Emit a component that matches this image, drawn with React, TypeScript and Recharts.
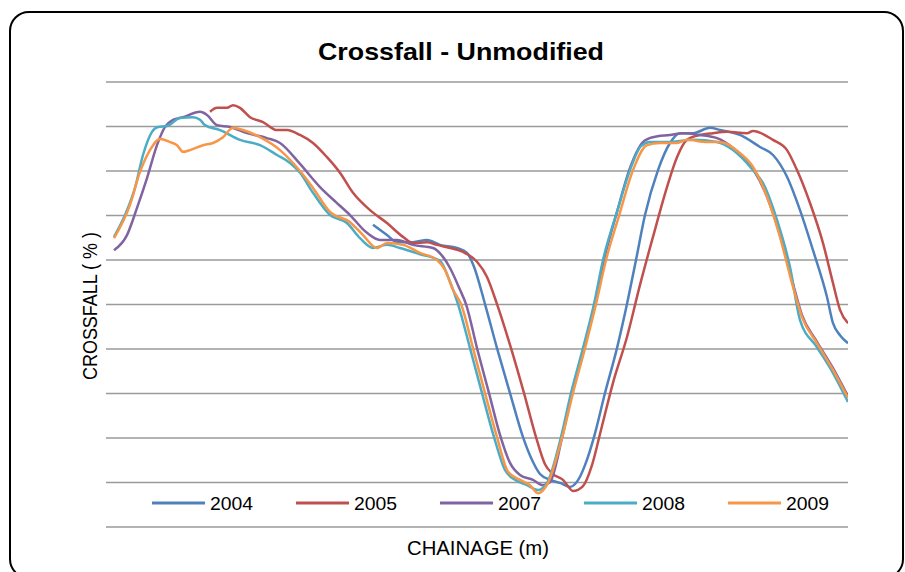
import React from "react";
import { LineChart, Line, XAxis, YAxis, CartesianGrid, Legend } from "recharts";

const years = ["2004", "2005", "2007", "2008", "2009"];
const colors = ["#4F81BD", "#C0504D", "#8064A2", "#4BACC6", "#F79646"];
const yTicks = [-5, -4, -3, -2, -1, 0, 1, 2, 3, 4, 5];

const chainage2004 = [267, 281, 291, 307, 321, 334, 351, 361, 368, 379, 391, 404, 417, 427, 434, 444, 454, 464, 474, 479, 488, 499, 511, 521, 530, 539, 552, 564, 574, 587, 604, 614, 634, 654, 667, 681, 694, 707, 721, 727, 734, 742];
const crossfall2004 = [1.79, 1.56, 1.40, 1.40, 1.45, 1.34, 1.27, 1.16, 0.85, 0.01, -0.98, -1.99, -2.98, -3.54, -3.81, -3.94, -4.01, -4.10, -3.87, -3.61, -2.98, -1.99, -0.98, 0.01, 1.00, 2.01, 3.02, 3.63, 3.85, 3.85, 3.97, 3.92, 3.81, 3.54, 3.36, 2.87, 2.12, 1.22, 0.17, -0.42, -0.69, -0.87];

const chainage2005 = [104, 111, 121, 127, 134, 144, 157, 171, 181, 194, 207, 221, 234, 247, 264, 281, 297, 307, 321, 331, 344, 357, 371, 381, 391, 405, 418, 430, 439, 447, 457, 467, 477, 486, 495, 507, 521, 534, 547, 561, 571, 581, 594, 607, 621, 641, 647, 667, 681, 691, 704, 717, 727, 734, 742];
const crossfall2005 = [4.33, 4.42, 4.42, 4.48, 4.42, 4.21, 4.10, 3.92, 3.92, 3.81, 3.63, 3.31, 2.96, 2.51, 2.12, 1.83, 1.52, 1.38, 1.40, 1.34, 1.27, 1.18, 0.96, 0.62, 0.01, -0.98, -1.99, -2.98, -3.59, -3.81, -3.94, -4.19, -4.08, -3.61, -2.82, -1.76, -0.73, 0.44, 1.52, 2.64, 3.31, 3.70, 3.81, 3.85, 3.88, 3.85, 3.90, 3.70, 3.47, 3.02, 2.28, 1.38, 0.48, -0.12, -0.42];

const chainage2007 = [8, 21, 31, 41, 51, 59, 67, 77, 94, 101, 111, 124, 141, 161, 174, 194, 214, 231, 244, 261, 274, 291, 307, 327, 337, 344, 354, 360, 371, 383, 394, 404, 414, 427, 437, 444, 456, 466, 478, 489, 498, 511, 524, 537, 547, 564, 577, 594, 611, 627, 647, 661, 674, 686, 696, 711, 727, 742];
const crossfall2007 = [1.22, 1.56, 2.17, 2.84, 3.58, 3.99, 4.15, 4.21, 4.33, 4.26, 4.03, 3.99, 3.85, 3.74, 3.63, 3.16, 2.64, 2.28, 2.01, 1.61, 1.45, 1.45, 1.34, 1.27, 1.07, 0.82, 0.33, 0.01, -0.98, -1.99, -2.93, -3.56, -3.83, -3.94, -4.06, -3.99, -3.00, -1.99, -0.98, 0.01, 1.00, 2.08, 3.07, 3.65, 3.76, 3.81, 3.85, 3.81, 3.74, 3.52, 3.05, 2.42, 1.56, 0.55, -0.24, -0.84, -1.43, -2.06];

const chainage2008 = [8, 19, 29, 37, 46, 52, 61, 74, 87, 94, 99, 114, 134, 154, 171, 184, 194, 207, 224, 241, 254, 267, 281, 294, 314, 334, 344, 352, 364, 376, 388, 399, 409, 421, 432, 441, 455, 465, 477, 488, 497, 511, 524, 535, 544, 561, 587, 611, 627, 647, 657, 671, 684, 694, 711, 727, 742];
const crossfall2008 = [1.52, 2.01, 2.62, 3.36, 3.88, 3.99, 4.01, 4.19, 4.21, 4.15, 4.03, 3.92, 3.70, 3.58, 3.36, 3.18, 2.96, 2.51, 2.01, 1.83, 1.49, 1.27, 1.34, 1.27, 1.13, 0.98, 0.51, 0.01, -0.98, -1.99, -2.98, -3.72, -3.94, -4.06, -4.17, -4.01, -2.98, -1.99, -0.98, 0.01, 1.00, 2.08, 3.02, 3.56, 3.65, 3.65, 3.70, 3.65, 3.47, 3.02, 2.73, 1.90, 0.84, -0.35, -0.96, -1.54, -2.19];

const chainage2009 = [8, 24, 34, 44, 54, 64, 71, 77, 84, 97, 107, 117, 127, 137, 154, 174, 194, 207, 224, 244, 257, 271, 281, 297, 314, 331, 339, 347, 355, 367, 379, 391, 402, 414, 424, 432, 442, 456, 467, 479, 490, 500, 513, 527, 541, 554, 571, 581, 601, 614, 634, 647, 661, 674, 686, 696, 711, 727, 742];
const crossfall2009 = [1.49, 2.24, 2.98, 3.47, 3.72, 3.65, 3.58, 3.43, 3.47, 3.58, 3.63, 3.76, 3.97, 3.92, 3.76, 3.47, 3.00, 2.62, 2.08, 1.85, 1.56, 1.27, 1.38, 1.34, 1.16, 1.00, 0.78, 0.33, 0.01, -0.98, -1.99, -2.98, -3.76, -3.94, -4.06, -4.24, -4.01, -3.00, -1.99, -0.98, 0.01, 1.00, 1.99, 3.02, 3.58, 3.63, 3.63, 3.70, 3.65, 3.65, 3.40, 3.09, 2.42, 1.52, 0.48, -0.28, -0.87, -1.47, -2.10];

const chainages = [chainage2004, chainage2005, chainage2007, chainage2008, chainage2009];
const crossfalls = [crossfall2004, crossfall2005, crossfall2007, crossfall2008, crossfall2009];

const series = years.map((name, i) => ({
  name,
  color: colors[i],
  data: chainages[i].map((c, j) => ({ c, v: crossfalls[i][j] })),
}));

const EmptyTick = () => <g />;

const LegendContent = (props: any) => {
  const payload = props.payload || [];
  return (
    <div style={{ display: "flex", flexDirection: "row" }}>
      {payload.map((entry: any, i: number) => (
        <svg key={i} width={103} height={24} style={{ marginRight: 42, display: "block" }}>
          <line x1={0} x2={53} y1={12} y2={12} stroke={entry.color} strokeWidth={3} />
          <text
            x={58}
            y={19}
            fontSize={18}
            fontFamily="'Liberation Sans Narrow', 'Liberation Sans', Arial, sans-serif"
            fill="#000"
            textLength={43}
            lengthAdjust="spacingAndGlyphs"
          >
            {entry.value}
          </text>
        </svg>
      ))}
    </div>
  );
};

export default function App() {
  return (
    <div style={{ position: "absolute", left: 0, top: 0, width: 905, height: 572, background: "#fff", overflow: "hidden" }}>
      <div
        style={{
          position: "absolute",
          left: 9,
          top: 11,
          width: 895,
          height: 568,
          boxSizing: "border-box",
          border: "2px solid #000",
          borderRadius: 20,
        }}
      />
      <div style={{ position: "absolute", left: 0, top: 0 }}>
        <LineChart width={905} height={572} margin={{ top: 82, right: 57, bottom: 45, left: 106 }}>
          <CartesianGrid horizontal={true} vertical={false} stroke="#9a9a9a" strokeWidth={1.4} />
          <XAxis type="number" dataKey="c" domain={[0, 742]} hide allowDataOverflow />
          <YAxis
            type="number"
            domain={[-5, 5]}
            ticks={yTicks}
            interval={0}
            tick={<EmptyTick />}
            tickLine={false}
            axisLine={false}
            width={0}
            allowDataOverflow
          />
          <Legend
            layout="horizontal"
            verticalAlign="middle"
            align="center"
            wrapperStyle={{ left: 152, top: 491, width: 720 }}
            content={<LegendContent />}
          />
          {series.map((s) => (
            <Line
              key={s.name}
              data={s.data}
              dataKey="v"
              name={s.name}
              type="monotone"
              stroke={s.color}
              strokeWidth={2.5}
              dot={false}
              activeDot={false}
              isAnimationActive={false}
            />
          ))}
        </LineChart>
      </div>
      <svg width={905} height={572} style={{ position: "absolute", left: 0, top: 0, pointerEvents: "none" }}>
        <text
          x={461}
          y={60}
          textAnchor="middle"
          fontSize={24}
          fontWeight="bold"
          fontFamily="'Liberation Sans', Arial, sans-serif"
          fill="#000"
          textLength={286}
          lengthAdjust="spacingAndGlyphs"
        >
          Crossfall - Unmodified
        </text>
        <text
          x={478}
          y={555}
          textAnchor="middle"
          fontSize={20}
          fontFamily="'Liberation Sans Narrow', 'Liberation Sans', Arial, sans-serif"
          fill="#000"
          textLength={142}
          lengthAdjust="spacingAndGlyphs"
        >
          CHAINAGE (m)
        </text>
        <text
          x={306}
          y={97}
          transform="rotate(-90 306 306)"
          textAnchor="middle"
          fontSize={20}
          fontFamily="'Liberation Sans Narrow', 'Liberation Sans', Arial, sans-serif"
          fill="#000"
          textLength={148}
          lengthAdjust="spacingAndGlyphs"
        >
          CROSSFALL ( % )
        </text>
      </svg>
    </div>
  );
}
